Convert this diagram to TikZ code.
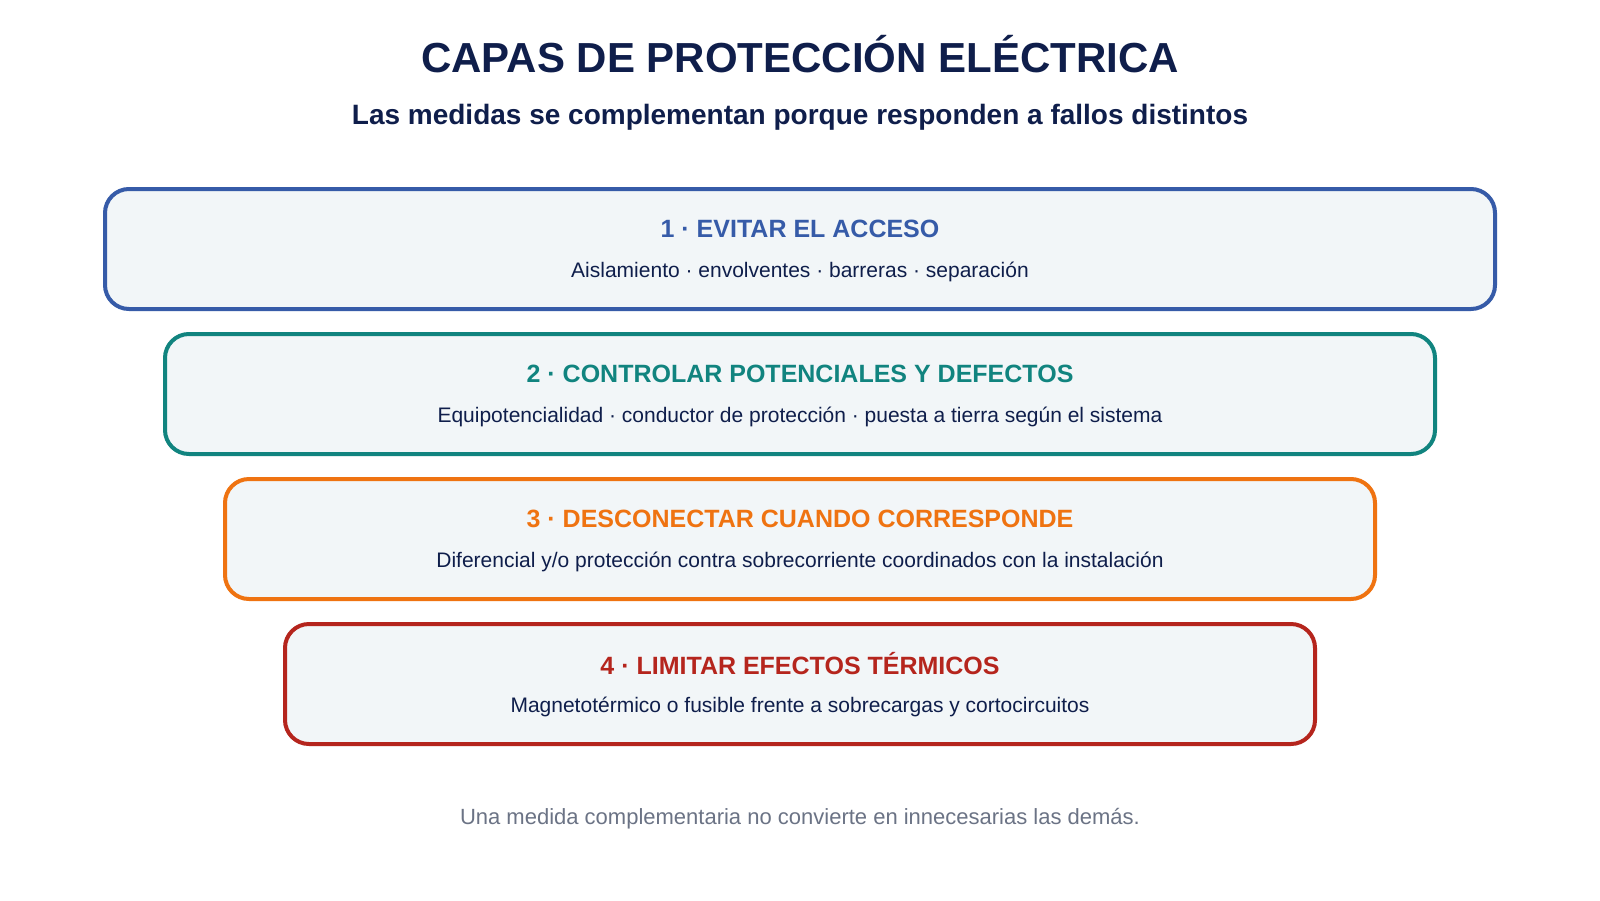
\documentclass[tikz,border=0pt]{standalone}
\usepackage{fontspec}
\setmainfont{Liberation Sans}
\definecolor{navy}{HTML}{0F1E4B}
\definecolor{cblue}{HTML}{365BA8}
\definecolor{cteal}{HTML}{11847F}
\definecolor{corange}{HTML}{EF7311}
\definecolor{cred}{HTML}{B5251D}
\definecolor{boxfill}{HTML}{F2F6F8}
\definecolor{footgray}{HTML}{6B7385}
\begin{document}
\begin{tikzpicture}[x=1pt,y=-1pt,
  layer/.style={draw=#1, line width=4pt, fill=boxfill, rounded corners=24pt},
  ltitle/.style={text=#1, font=\fontsize{25}{29}\selectfont\bfseries, anchor=center},
  ldesc/.style={text=navy, font=\fontsize{21}{25}\selectfont, anchor=center}]
\useasboundingbox[fill=white] (0,0) rectangle (1600,900);
\node[text=navy, font=\fontsize{42}{48}\selectfont\bfseries] (title) at (800,54) {CAPAS DE PROTECCIÓN ELÉCTRICA};
\node[text=navy, font=\fontsize{28}{32}\selectfont\bfseries] (sub) at (800,117) {Las medidas se complementan porque responden a fallos distintos};

\draw[layer=cblue] (105,189) rectangle (1495,309);
\node[ltitle=cblue] (t1) at (800,229) {1 · EVITAR EL ACCESO};
\node[ldesc] (d1) at (800,272) {Aislamiento · envolventes · barreras · separación};

\draw[layer=cteal] (165,334) rectangle (1435,454);
\node[ltitle=cteal] (t2) at (800,374) {2 · CONTROLAR POTENCIALES Y DEFECTOS};
\node[ldesc] (d2) at (800,417) {Equipotencialidad · conductor de protección · puesta a tierra según el sistema};

\draw[layer=corange] (225,479) rectangle (1375,599);
\node[ltitle=corange] (t3) at (800,519) {3 · DESCONECTAR CUANDO CORRESPONDE};
\node[ldesc] (d3) at (800,562) {Diferencial y/o protección contra sobrecorriente coordinados con la instalación};

\draw[layer=cred] (285,624) rectangle (1315,744);
\node[ltitle=cred] (t4) at (800,664) {4 · LIMITAR EFECTOS TÉRMICOS};
\node[ldesc] (d4) at (800,707) {Magnetotérmico o fusible frente a sobrecargas y cortocircuitos};

\node[text=footgray, font=\fontsize{22}{26}\selectfont] (foot) at (800,819) {Una medida complementaria no convierte en innecesarias las demás.};
\end{tikzpicture}
\end{document}
